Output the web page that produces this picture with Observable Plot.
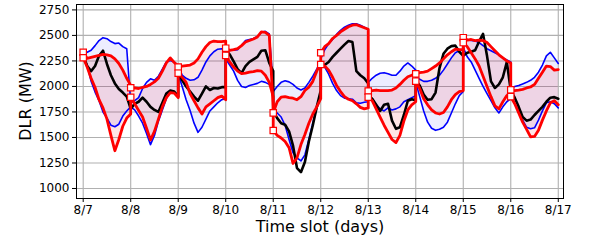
<!DOCTYPE html>
<html>
<head>
<meta charset="utf-8">
<script src="https://cdn.jsdelivr.net/npm/d3@7"></script>
<script src="https://cdn.jsdelivr.net/npm/@observablehq/plot@0.6"></script>
<style>
  html, body { margin: 0; padding: 0; background: #ffffff; }
  svg { display: block; }
</style>
</head>
<body>
<div id="chart"></div>
<script>
// ---- tick labels ----
const dayLabels = ["8/7", "8/8", "8/9", "8/10", "8/11", "8/12", "8/13", "8/14", "8/15", "8/16", "8/17"];
const dayTicks = [0, 1, 2, 3, 4, 5, 6, 7, 8, 9, 10];
const yTicks = [1000, 1250, 1500, 1750, 2000, 2250, 2500, 2750];
const samplesPerDay = 12; // one value every 2 hours, 13 values per day (both ends)

// ---- series values (MW), one row per day ----
const redUpper = [
  [2335, 2275, 2285, 2295, 2305, 2315, 2310, 2300, 2270, 2225, 2160, 2080, 2010],
  [1987, 1985, 1980, 1990, 2000, 2020, 2045, 2080, 2150, 2230, 2280, 2235, 2200],
  [2190, 2200, 2205, 2210, 2230, 2270, 2335, 2390, 2430, 2445, 2440, 2440, 2445],
  [2375, 2354, 2360, 2370, 2400, 2435, 2450, 2465, 2485, 2535, 2530, 2500, 1800],
  [1741, 1850, 1895, 1900, 1890, 1885, 1870, 1900, 1960, 1993, 2050, 2150, 2230],
  [2330, 2390, 2420, 2470, 2500, 2535, 2560, 2585, 2600, 2605, 2590, 2575, 2560],
  [1954, 1960, 1965, 1960, 1960, 1960, 1965, 1985, 2020, 2060, 2095, 2110, 2120],
  [2124, 2135, 2140, 2150, 2175, 2200, 2230, 2270, 2310, 2340, 2365, 2360, 2360],
  [2478, 2455, 2460, 2450, 2455, 2450, 2430, 2390, 2350, 2310, 2280, 2250, 2230],
  [1967, 1960, 1965, 1972, 1985, 1995, 2020, 2080, 2140, 2200, 2195, 2160, 2165]
];
const redLower = [
  [2281, 2190, 2080, 1990, 1870, 1790, 1680, 1520, 1370, 1480, 1610, 1690, 1730],
  [1894, 1830, 1765, 1700, 1590, 1475, 1560, 1680, 1800, 1890, 1940, 1935, 1890],
  [2130, 2090, 2040, 1930, 1860, 1790, 1730, 1800, 1830, 1860, 1890, 1905, 1870],
  [2304, 2240, 2190, 2150, 2125, 2130, 2140, 2145, 2155, 2150, 2110, 2040, 1900],
  [1568, 1520, 1495, 1460, 1400, 1245, 1300, 1430, 1530, 1640, 1730, 1800, 1880],
  [2215, 2200, 2160, 2090, 2010, 1950, 1900, 1875, 1860, 1830, 1795, 1780, 1790],
  [1895, 1860, 1780, 1700, 1620, 1550, 1480, 1450, 1520, 1660, 1770, 1820, 1850],
  [2052, 1980, 1880, 1820, 1770, 1740, 1730, 1745, 1800, 1870, 1920, 1950, 1960],
  [2430, 2390, 2330, 2270, 2200, 2100, 2000, 1900, 1810, 1780, 1850, 1910, 1950],
  [1900, 1830, 1740, 1650, 1580, 1505, 1510, 1570, 1670, 1760, 1840, 1860, 1820]
];
const blueUpper = [
  [2300, 2335, 2355, 2400, 2450, 2478, 2468, 2440, 2420, 2425, 2390, 2370, 1840],
  [1840, 1860, 1890, 1980, 2040, 2075, 2060, 2100, 2170, 2240, 2255, 2240, 2205],
  [2210, 2110, 2080, 2060, 2065, 2090, 2160, 2240, 2300, 2340, 2365, 2370, 2355],
  [2330, 2354, 2354, 2360, 2403, 2450, 2460, 2470, 2490, 2530, 2540, 2515, 2000],
  [1950, 2000, 2040, 2055, 2045, 2020, 1985, 1965, 1985, 2040, 2100, 2170, 2250],
  [2270, 2360, 2420, 2460, 2510, 2550, 2580, 2600, 2615, 2615, 2600, 2580, 2560],
  [2040, 2080, 2110, 2130, 2135, 2125, 2110, 2110, 2150, 2200, 2230, 2200, 2160],
  [2090, 2070, 2050, 2050, 2060, 2080, 2110, 2160, 2220, 2280, 2330, 2350, 2360],
  [2470, 2460, 2450, 2445, 2430, 2400, 2370, 2350, 2330, 2310, 2280, 2260, 2240],
  [1985, 2000, 2010, 2025, 2040, 2060, 2090, 2140, 2210, 2300, 2335, 2280, 2225]
];
const blueLower = [
  [2290, 2210, 2050, 1945, 1860, 1750, 1690, 1620, 1605, 1630, 1710, 1760, 1800],
  [1800, 1770, 1710, 1640, 1540, 1430, 1520, 1660, 1770, 1880, 1950, 1940, 1900],
  [2125, 2000, 1870, 1765, 1640, 1550, 1600, 1680, 1760, 1800, 1840, 1870, 1880],
  [2270, 2210, 2150, 2060, 2000, 1990, 2010, 2020, 2030, 2050, 2040, 2020, 1970],
  [1780, 1740, 1700, 1620, 1480, 1350, 1300, 1270, 1330, 1480, 1640, 1790, 1900],
  [2220, 2190, 2120, 2030, 1960, 1910, 1885, 1880, 1875, 1840, 1835, 1845, 1850],
  [1930, 1880, 1820, 1780, 1760, 1790, 1770, 1780, 1800, 1850, 1870, 1890, 1910],
  [2040, 1900, 1760, 1650, 1590, 1570, 1580, 1600, 1650, 1740, 1830, 1910, 1950],
  [2380, 2290, 2240, 2160, 2080, 2000, 1930, 1860, 1790, 1740, 1800, 1850, 1880],
  [1910, 1830, 1760, 1670, 1600, 1585, 1595, 1670, 1760, 1840, 1850, 1830, 1790]
];
const actual = [
  [2304, 2200, 2150, 2200, 2300, 2350, 2220, 2110, 2030, 1975, 1940, 1900, 1780],
  [1780, 1830, 1850, 1890, 1850, 1800, 1770, 1750, 1840, 1930, 1960, 1950, 1900],
  [2140, 2060, 2000, 1950, 1900, 1860, 1930, 2000, 1965, 1985, 1980, 1993, 1993],
  [2354, 2314, 2245, 2170, 2130, 2200, 2240, 2265, 2290, 2350, 2355, 2230, 2150],
  [1760, 1690, 1640, 1625, 1560, 1420, 1200, 1160, 1260, 1460, 1620, 1800, 1960],
  [2220, 2210, 2240, 2290, 2330, 2370, 2410, 2445, 2435, 2150, 2110, 2080, 2030],
  [1910, 1880, 1820, 1760, 1820, 1830, 1665, 1585, 1600, 1720, 1860, 1875, 1865],
  [2060, 2010, 1920, 1870, 1875, 1940, 2180, 2320, 2370, 2395, 2400, 2340, 2300],
  [2300, 2330, 2340, 2355, 2440, 2515, 2300, 2050, 1985, 2020, 2090, 2240, 1960],
  [1960, 1890, 1800, 1700, 1665, 1675, 1720, 1760, 1800, 1850, 1890, 1895, 1880]
];

// ---- table built from the arrays ----
const rows = [];
for (let d = 0; d < redUpper.length; d++) {
  for (let k = 0; k <= samplesPerDay; k++) {
    rows.push({
      t: d + k / samplesPerDay, day: d, k,
      ru: redUpper[d][k], rl: redLower[d][k],
      bu: blueUpper[d][k], bl: blueLower[d][k],
      bk: actual[d][k]
    });
  }
}
const starts = rows.filter(r => r.k === 0);
const startPts = starts.flatMap(r => [{t: r.t, v: r.ru}, {t: r.t, v: r.rl}]);

const chart = Plot.plot({
  width: 589,
  height: 241,
  marginLeft: 76,
  marginRight: 26,
  marginTop: 4,
  marginBottom: 43,
  style: {fontFamily: "DejaVu Sans", fontSize: "12px", background: "#ffffff", color: "#000000", overflow: "visible"},
  x: {domain: [-0.141, 10.11]},
  y: {domain: [902, 2803]},
  marks: [
    Plot.gridX(dayTicks, {stroke: "#b0b0b0", strokeOpacity: 1, strokeWidth: 1.1}),
    Plot.gridY(yTicks, {stroke: "#b0b0b0", strokeOpacity: 1, strokeWidth: 1.1}),
    Plot.areaY(rows, {x: "t", y1: "bl", y2: "bu", z: "day", fill: "#0000ff", fillOpacity: 0.07}),
    Plot.areaY(rows, {x: "t", y1: "rl", y2: "ru", z: "day", fill: "#ff0000", fillOpacity: 0.1}),
    Plot.line(rows, {x: "t", y: "bu", stroke: "#0000ff", strokeWidth: 1.6}),
    Plot.line(rows, {x: "t", y: "bl", stroke: "#0000ff", strokeWidth: 1.6}),
    Plot.line(rows, {x: "t", y: "bk", stroke: "#000000", strokeWidth: 2.6}),
    Plot.line(rows, {x: "t", y: "ru", stroke: "#ff0000", strokeWidth: 2.8}),
    Plot.line(rows, {x: "t", y: "rl", stroke: "#ff0000", strokeWidth: 2.8}),
    Plot.dot(startPts, {x: "t", y: "v", symbol: "square", r: 3.6, fill: "#ffffff", stroke: "#ff0000", strokeWidth: 1.2}),
    Plot.frame({stroke: "#000000", strokeWidth: 1}),
    Plot.axisX(dayTicks, {tickFormat: i => dayLabels[i], tickSize: 4, tickPadding: 3, label: null}),
    Plot.axisY(yTicks, {tickFormat: v => String(v), tickSize: 4, tickPadding: 3, label: null})
  ]
});

const svg = d3.select(chart);
svg.append("text")
  .attr("transform", "translate(31,101) rotate(-90)")
  .attr("text-anchor", "middle")
  .attr("font-family", "DejaVu Sans")
  .attr("font-size", 16)
  .attr("fill", "#000")
  .text("DLR (MW)");
svg.append("text")
  .attr("x", 320)
  .attr("y", 232)
  .attr("text-anchor", "middle")
  .attr("font-family", "DejaVu Sans")
  .attr("font-size", 16)
  .attr("fill", "#000")
  .text("Time slot (days)");

document.getElementById("chart").appendChild(chart);
</script>
</body>
</html>
